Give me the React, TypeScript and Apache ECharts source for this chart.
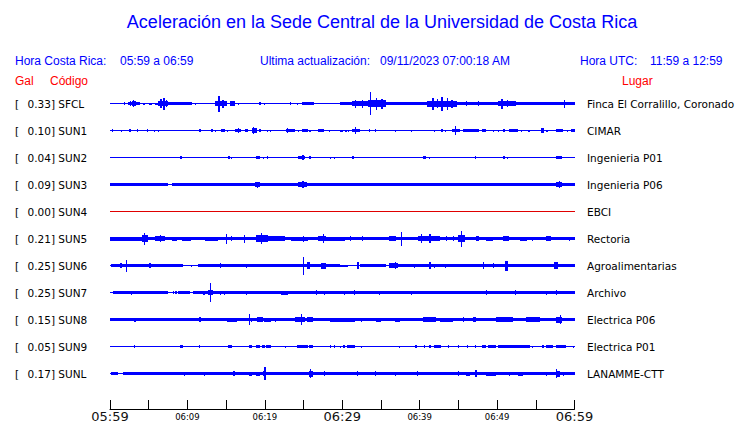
import React, { useEffect, useRef } from "react";
import * as echarts from "echarts";

// Station codes, peak acceleration (Gal) and place names
const codes = ["SFCL", "SUN1", "SUN2", "SUN3", "SUN4", "SUN5", "SUN6", "SUN7", "SUN8", "SUN9", "SUNL"];
const peakGal = [0.33, 0.1, 0.04, 0.09, 0.0, 0.21, 0.25, 0.25, 0.15, 0.05, 0.17];
const places = [
  "Finca El Corralillo, Coronado",
  "CIMAR",
  "Ingenieria P01",
  "Ingenieria P06",
  "EBCI",
  "Rectoria",
  "Agroalimentarias",
  "Archivo",
  "Electrica P06",
  "Electrica P01",
  "LANAMME-CTT",
];

// Time axis: minutes after 05:59 local time, ticks every 5 minutes
const timeLabels = ["05:59", "06:04", "06:09", "06:14", "06:19", "06:24", "06:29", "06:34", "06:39", "06:44", "06:49", "06:54", "06:59"];

// Background (noise) envelope half-amplitude of each trace, display units
const baseAmp = [0.5, 0.5, 0.5, 0.5, 0.5, 1.6, 0.5, 0.5, 1.6, 0.5, 0.5];

// Envelope segments read from the record: [startMin, endMin, halfAmplitude]
const SFCL = [
  [1.8, 1.95, 1.3], [2.3, 3.9, 1.5], [2.8, 3.4, 2.5], [2.6, 2.75, 2.5], [3.0, 3.1, 3.3],
  [4.3, 4.5, 1.0], [5.0, 5.4, 1.0], [5.8, 6.2, 1.0],
  [6.15, 7.5, 2.3], [6.5, 6.7, 4.5], [6.9, 7.05, 6.0], [7.2, 7.35, 3.5],
  [7.5, 8.8, 1.8], [8.8, 10.6, 1.2], [11.0, 11.15, 1.0],
  [13.5, 15.1, 2.7], [14.0, 14.15, 8.0], [14.5, 14.7, 4.0],
  [15.5, 16.1, 2.3], [16.5, 16.6, 1.0],
  [19.2, 19.5, 1.7], [19.9, 20.0, 1.0], [21.8, 21.9, 0.9], [23.2, 23.3, 1.2], [24.2, 24.3, 1.0],
  [24.8, 26.4, 1.3],
  [29.7, 31.2, 1.3], [30.0, 30.3, 1.5],
  [31.2, 33.3, 2.3], [31.6, 31.8, 4.0], [32.5, 32.7, 4.0],
  [33.3, 35.7, 3.3], [33.6, 33.75, 11.5], [34.3, 34.5, 6.0], [35.0, 35.2, 5.0],
  [35.7, 41.0, 1.3],
  [41.0, 44.8, 3.0], [41.6, 41.8, 6.0], [42.2, 42.35, 4.5], [42.8, 43.0, 7.0], [43.5, 43.7, 6.0], [44.1, 44.25, 4.0],
  [44.8, 50.1, 1.3], [46.0, 46.15, 2.3], [47.5, 47.65, 2.3],
  [50.1, 52.5, 2.7], [50.5, 50.7, 5.0], [51.3, 51.45, 3.7],
  [52.5, 55.1, 1.7],
  [55.1, 60, 1.3], [58.6, 58.75, 4.0],
];
const SUN1 = [
  [0.3, 0.45, 1.3], [1.4, 1.6, 1.0], [2.5, 2.65, 1.3], [3.45, 3.6, 1.3], [4.75, 4.9, 1.3], [5.65, 5.8, 1.0], [6.2, 6.35, 1.0],
  [11.5, 11.8, 1.7], [13.0, 13.3, 1.3], [13.55, 13.7, 1.0], [14.3, 14.9, 1.3], [15.15, 15.3, 1.0],
  [16.2, 16.9, 1.7], [16.55, 16.7, 2.7], [17.4, 17.8, 1.3],
  [18.3, 19.05, 2.7], [18.45, 18.6, 3.7], [19.3, 19.45, 1.3], [20.25, 20.4, 1.0], [20.65, 20.8, 1.0],
  [22.7, 23.9, 1.7], [22.85, 23.0, 2.7], [24.25, 24.4, 1.0], [24.8, 25.6, 1.7], [25.75, 25.9, 1.0],
  [26.9, 27.7, 1.3], [28.25, 28.4, 1.0],
  [29.7, 30.1, 1.0], [30.4, 30.55, 1.0], [30.7, 30.85, 1.0],
  [31.2, 32.35, 1.3], [31.65, 31.8, 3.3],
  [33.45, 33.6, 1.3], [34.2, 34.4, 1.3], [36.75, 36.9, 1.0], [38.85, 39.0, 1.0],
  [41.85, 42.0, 1.0], [42.8, 43.0, 1.3], [43.3, 43.45, 1.0],
  [44.2, 45.2, 1.7], [44.6, 44.75, 4.3],
  [45.6, 47.7, 1.7], [48.1, 48.6, 1.3], [49.45, 49.6, 1.0], [50.15, 50.3, 1.0], [50.75, 51.0, 1.3],
  [51.5, 52.7, 1.3], [53.05, 53.2, 1.0], [54.05, 54.2, 1.0],
  [55.7, 56.0, 2.3], [56.35, 56.55, 1.0], [57.55, 58.5, 1.7], [59.05, 59.2, 1.0], [59.55, 60, 1.3],
];
const SUN2 = [
  [6.7, 6.8, 0.9], [9.0, 9.3, 1.3], [15.3, 15.45, 1.3], [15.6, 15.7, 1.0],
  [18.9, 19.35, 1.3], [19.75, 19.85, 1.0], [20.3, 20.45, 1.3],
  [24.3, 25.2, 1.3], [24.8, 25.0, 2.3], [25.7, 26.0, 1.3], [28.45, 28.55, 1.0], [28.95, 29.05, 1.0],
  [31.2, 31.5, 1.3], [40.4, 40.8, 1.3], [41.25, 41.35, 1.0], [47.1, 47.3, 1.3], [50.75, 51.0, 1.3],
  [51.25, 51.35, 1.0], [52.45, 52.55, 0.9], [53.05, 53.15, 0.9], [56.05, 56.15, 0.9], [57.6, 58.4, 1.5],
];
const SUN3 = [
  [0, 2.4, 1.7], [2.4, 7.5, 1.3], [8.0, 60, 1.3],
  [18.7, 19.35, 2.3], [19.0, 19.15, 3.0],
  [24.3, 25.4, 2.3], [24.85, 25.0, 3.3], [28.15, 28.3, 1.7], [30.05, 30.2, 1.7],
  [31.25, 31.4, 1.7], [41.25, 41.4, 1.7], [47.05, 47.2, 1.7], [51.15, 51.3, 1.7], [52.45, 52.6, 1.7],
  [57.6, 58.4, 2.7], [57.95, 58.1, 3.3],
];
const SUN4: number[][] = [];
const SUN5 = [
  [0, 4.1, 2.0], [4.1, 4.95, 3.3], [4.35, 4.5, 6.0], [5.8, 7.1, 2.3], [6.4, 6.55, 3.3], [7.95, 8.6, 2.0], [9.25, 10.5, 2.0],
  [12.25, 14.0, 2.0], [15.0, 15.15, 5.0], [15.65, 15.8, 2.5], [17.25, 17.4, 4.0],
  [18.9, 20.4, 3.3], [19.5, 19.65, 5.5], [20.4, 22.6, 2.3], [23.4, 25.6, 2.0], [24.9, 25.05, 3.0],
  [26.9, 27.95, 2.7], [27.45, 27.6, 4.7], [27.95, 30.3, 2.0],
  [30.95, 31.1, 2.3], [32.5, 32.7, 2.7], [36.1, 37.0, 2.7], [37.55, 37.7, 7.0],
  [39.8, 42.6, 2.7], [40.15, 40.3, 4.5], [41.25, 41.4, 4.7], [43.35, 43.5, 2.3], [44.25, 44.4, 2.3],
  [44.95, 45.8, 3.3], [45.35, 45.5, 8.0], [47.3, 47.7, 2.3], [48.6, 49.5, 2.0], [50.75, 51.6, 2.7],
  [52.9, 53.8, 2.0], [54.55, 54.7, 2.0], [56.35, 57.0, 2.3], [59.3, 59.45, 2.0],
];
const SUN6 = [
  [0.1, 9.45, 1.2], [11.4, 29.7, 1.2],
  [1.35, 1.5, 2.7], [2.1, 2.25, 6.0], [2.8, 4.1, 1.4], [4.3, 6.9, 1.7], [5.1, 5.25, 2.7],
  [10.4, 10.5, 1.0], [14.15, 14.3, 2.7], [17.55, 17.7, 2.0], [23.2, 24.7, 1.7], [24.9, 25.05, 9.0],
  [25.4, 25.8, 3.3], [27.2, 27.95, 3.0], [27.95, 29.7, 1.7],
  [29.7, 30.75, 1.0], [31.95, 32.1, 3.3], [32.3, 35.7, 1.3], [36.1, 37.2, 2.3], [36.85, 37.0, 3.3], [37.2, 60, 1.7],
  [39.3, 39.45, 2.0], [41.25, 41.4, 3.3], [41.85, 42.0, 2.0], [43.3, 43.45, 2.0], [48.15, 48.3, 3.3],
  [49.45, 49.6, 2.7], [51.0, 51.4, 5.0], [57.4, 57.85, 3.3],
];
const SUN7 = [
  [0.43, 7.5, 1.3], [8.8, 10.3, 1.3], [10.75, 29.7, 1.4], [29.7, 60, 1.6],
  [2.65, 2.8, 2.0], [3.15, 3.3, 1.7], [8.15, 8.3, 1.3], [8.45, 8.6, 1.3], [12.0, 12.25, 2.0], [12.7, 13.3, 2.7],
  [12.95, 13.1, 9.5], [14.15, 14.3, 2.0], [14.75, 14.9, 2.0], [17.55, 17.7, 2.0], [18.25, 18.4, 1.7],
  [20.55, 20.7, 1.7], [21.25, 21.4, 1.7], [22.15, 23.0, 2.0], [26.65, 26.8, 2.7], [27.65, 27.8, 2.0],
  [30.25, 30.4, 2.0], [31.55, 31.7, 2.3], [33.45, 33.6, 1.7], [34.75, 34.9, 2.0], [36.05, 36.2, 1.7],
  [38.85, 39.0, 2.0], [39.65, 39.8, 1.7], [41.25, 41.4, 1.7], [43.05, 43.2, 1.7], [44.45, 44.6, 1.7],
  [48.55, 48.7, 2.3], [50.95, 51.1, 1.7], [52.25, 52.4, 2.7], [54.55, 54.7, 1.7], [55.5, 55.9, 1.7],
  [56.35, 56.5, 2.0], [57.55, 57.7, 2.7], [58.25, 58.4, 1.7],
];
const SUN8 = [
  [3.15, 3.3, 2.0], [9.25, 9.4, 1.7], [9.85, 10.0, 1.7], [11.5, 11.7, 2.7], [12.95, 13.1, 1.7],
  [15.05, 16.35, 2.0], [16.75, 16.9, 1.7], [17.95, 18.1, 5.5], [18.25, 18.4, 2.0], [19.05, 19.8, 2.7],
  [19.9, 20.85, 2.0], [21.25, 21.4, 2.0], [22.35, 22.5, 1.7], [23.9, 25.2, 2.7], [24.65, 24.8, 5.3],
  [25.4, 26.2, 2.7], [28.4, 30.3, 2.0],
  [29.7, 31.6, 2.0], [32.45, 32.6, 2.0], [33.3, 33.8, 1.7], [34.4, 35.05, 2.0], [36.8, 37.4, 2.0],
  [38.65, 38.8, 1.7], [39.05, 39.2, 1.7], [40.4, 42.15, 2.3], [42.6, 44.3, 2.0], [44.65, 44.8, 1.7],
  [45.55, 45.7, 2.7], [46.9, 47.3, 2.7], [49.9, 52.0, 2.3], [53.75, 55.5, 2.3], [56.3, 56.45, 1.7],
  [57.6, 58.4, 3.0], [58.1, 58.25, 4.7],
];
const SUN9 = [
  [3.1, 3.25, 1.3], [9.0, 9.45, 1.3], [11.45, 11.6, 1.3], [15.2, 15.7, 1.3], [18.0, 18.3, 1.7],
  [18.9, 19.35, 1.7], [19.6, 20.0, 1.3], [20.2, 20.85, 1.3], [22.55, 22.7, 1.0], [24.2, 25.6, 1.7],
  [25.7, 26.2, 1.3], [28.45, 28.6, 1.3], [28.95, 29.1, 1.3], [29.65, 29.8, 1.0], [30.15, 30.3, 1.3],
  [30.6, 31.6, 1.3], [32.45, 32.6, 1.0], [37.35, 37.5, 1.0], [39.35, 39.65, 1.3], [40.55, 40.7, 1.3],
  [41.25, 41.4, 1.3], [41.9, 42.8, 1.3], [43.6, 43.75, 1.3], [44.9, 45.05, 1.3], [46.05, 46.2, 1.3],
  [47.1, 47.3, 1.3], [48.1, 48.6, 1.3], [48.8, 49.9, 1.3], [50.1, 54.2, 1.3], [54.55, 54.7, 1.0],
  [55.85, 56.0, 1.3], [56.35, 57.2, 1.3], [57.6, 58.9, 1.7], [59.75, 59.9, 1.0],
];
const SUNL = [
  [0.1, 1.07, 1.7], [1.7, 60, 1.3],
  [9.55, 9.7, 2.0], [12.15, 12.3, 2.0], [15.95, 16.1, 2.3], [18.0, 18.3, 2.0], [18.9, 19.35, 2.0],
  [19.8, 20.2, 2.7], [19.95, 20.1, 6.7], [25.7, 26.2, 3.0], [25.85, 26.0, 4.7], [27.65, 27.8, 2.3],
  [28.35, 28.5, 1.7], [29.45, 29.6, 1.7],
  [31.85, 32.0, 2.7], [34.25, 34.4, 2.7], [36.75, 36.9, 2.0], [39.6, 39.75, 2.3], [40.35, 40.5, 1.7],
  [41.85, 42.0, 1.7], [44.9, 45.05, 2.7], [46.0, 46.45, 2.0], [47.2, 47.4, 3.3], [48.6, 49.9, 2.0],
  [51.55, 51.7, 2.0], [52.7, 53.3, 2.0], [56.3, 56.45, 2.0], [57.55, 58.1, 3.0], [57.65, 57.8, 4.7],
  [58.45, 58.6, 2.0],
];
const segments = [SFCL, SUN1, SUN2, SUN3, SUN4, SUN5, SUN6, SUN7, SUN8, SUN9, SUNL];

const BLUE = "#0000ff";
const RED = "#ff0000";
const SANS = "'Liberation Sans', Arial, sans-serif";
const DEJAVU = "'DejaVu Sans', sans-serif";

export default function App() {
  const ref = useRef<HTMLDivElement>(null);

  useEffect(() => {
    const chart = echarts.init(ref.current as HTMLDivElement, null, { renderer: "svg" });
    const rowValue = (i: number) => 305.5 - 27 * i;
    const rowPx = (i: number) => 103.5 + 27 * i;

    const series = codes.map((code, i) => {
      const color = peakGal[i] === 0 ? "#e00000" : BLUE;
      return {
        type: "custom",
        name: code,
        coordinateSystem: "cartesian2d",
        clip: false,
        encode: { x: [0, 1], y: 2 },
        data: [[0, 60, baseAmp[i]], ...segments[i]],
        renderItem: (_p: any, api: any) => {
          const c = rowValue(i);
          const t0 = api.value(0);
          const t1 = api.value(1);
          const a = api.value(2);
          const p0 = api.coord([t0, c + a]);
          const p1 = api.coord([t1, c - a]);
          const x0 = Math.round(p0[0]);
          let x1 = Math.round(p1[0]);
          if (x1 - x0 < 1) x1 = x0 + 1;
          const y0 = Math.round(p0[1]);
          let y1 = Math.round(p1[1]);
          if (y1 - y0 < 1) y1 = y0 + 1;
          return {
            type: "rect",
            shape: { x: x0, y: y0, width: x1 - x0, height: y1 - y0 },
            style: { fill: color, stroke: null },
          };
        },
      };
    });

    const txt = (text: string, x: number, y: number, size: number, color: string, family: string, align = "left") => ({
      type: "text",
      x,
      y,
      silent: true,
      style: {
        text,
        fill: color,
        fontSize: size,
        fontFamily: family,
        align,
        textAlign: align,
        verticalAlign: "middle",
        textVerticalAlign: "middle",
      },
    });

    const graphics: any[] = [
      txt("Aceleración en la Sede Central de la Universidad de Costa Rica", 382, 22, 18, BLUE, SANS, "center"),
      txt("Hora Costa Rica:", 15, 61, 12, BLUE, SANS),
      txt("05:59 a 06:59", 120, 61, 12, BLUE, SANS),
      txt("Ultima actualización:", 260, 61, 12, BLUE, SANS),
      txt("09/11/2023 07:00:18 AM", 380, 61, 12, BLUE, SANS),
      txt("Hora UTC:", 580, 61, 12, BLUE, SANS),
      txt("11:59 a 12:59", 650, 61, 12, BLUE, SANS),
      txt("Gal", 15, 81, 12, RED, SANS),
      txt("Código", 50, 81, 12, RED, SANS),
      txt("Lugar", 622, 81, 12, RED, SANS),
    ];
    codes.forEach((code, i) => {
      const y = rowPx(i);
      graphics.push(txt("[", 15, y, 10.5, "#000", DEJAVU));
      graphics.push(txt(`${peakGal[i].toFixed(2)}] ${code}`, 27.5, y, 10.5, "#000", DEJAVU));
      graphics.push(txt(places[i], 587, y, 10.5, "#000", DEJAVU));
    });

    chart.setOption({
      animation: false,
      backgroundColor: "#ffffff",
      grid: { left: 110, right: 165.5, top: 76, bottom: 14, containLabel: false, outerBoundsMode: "none" },
      xAxis: {
        type: "value",
        min: 0,
        max: 60,
        interval: 5,
        axisLine: { show: true, onZero: false, lineStyle: { color: "#000", width: 1 } },
        axisTick: { show: true, inside: true, length: 9, lineStyle: { color: "#000", width: 1 } },
        splitLine: { show: false },
        axisLabel: {
          show: true,
          showMinLabel: true,
          showMaxLabel: true,
          hideOverlap: false,
          margin: 1,
          formatter: (v: number) => {
            const idx = Math.round(v / 5);
            if (idx % 2 === 1) return "";
            const big = idx % 6 === 0;
            return `{${big ? "b" : "s"}|${timeLabels[idx]}}`;
          },
          rich: {
            b: { fontSize: 13, fontFamily: DEJAVU, fontWeight: "normal", color: "#111", lineHeight: 13 },
            s: { fontSize: 8.5, fontFamily: DEJAVU, fontWeight: "normal", color: "#000", lineHeight: 13 },
          },
        },
      },
      yAxis: { type: "value", min: 0, max: 333, show: false },
      series,
      graphic: graphics,
    });

    return () => chart.dispose();
  }, []);

  return <div ref={ref} style={{ position: "absolute", left: 0, top: 0, width: 740, height: 423 }} />;
}
